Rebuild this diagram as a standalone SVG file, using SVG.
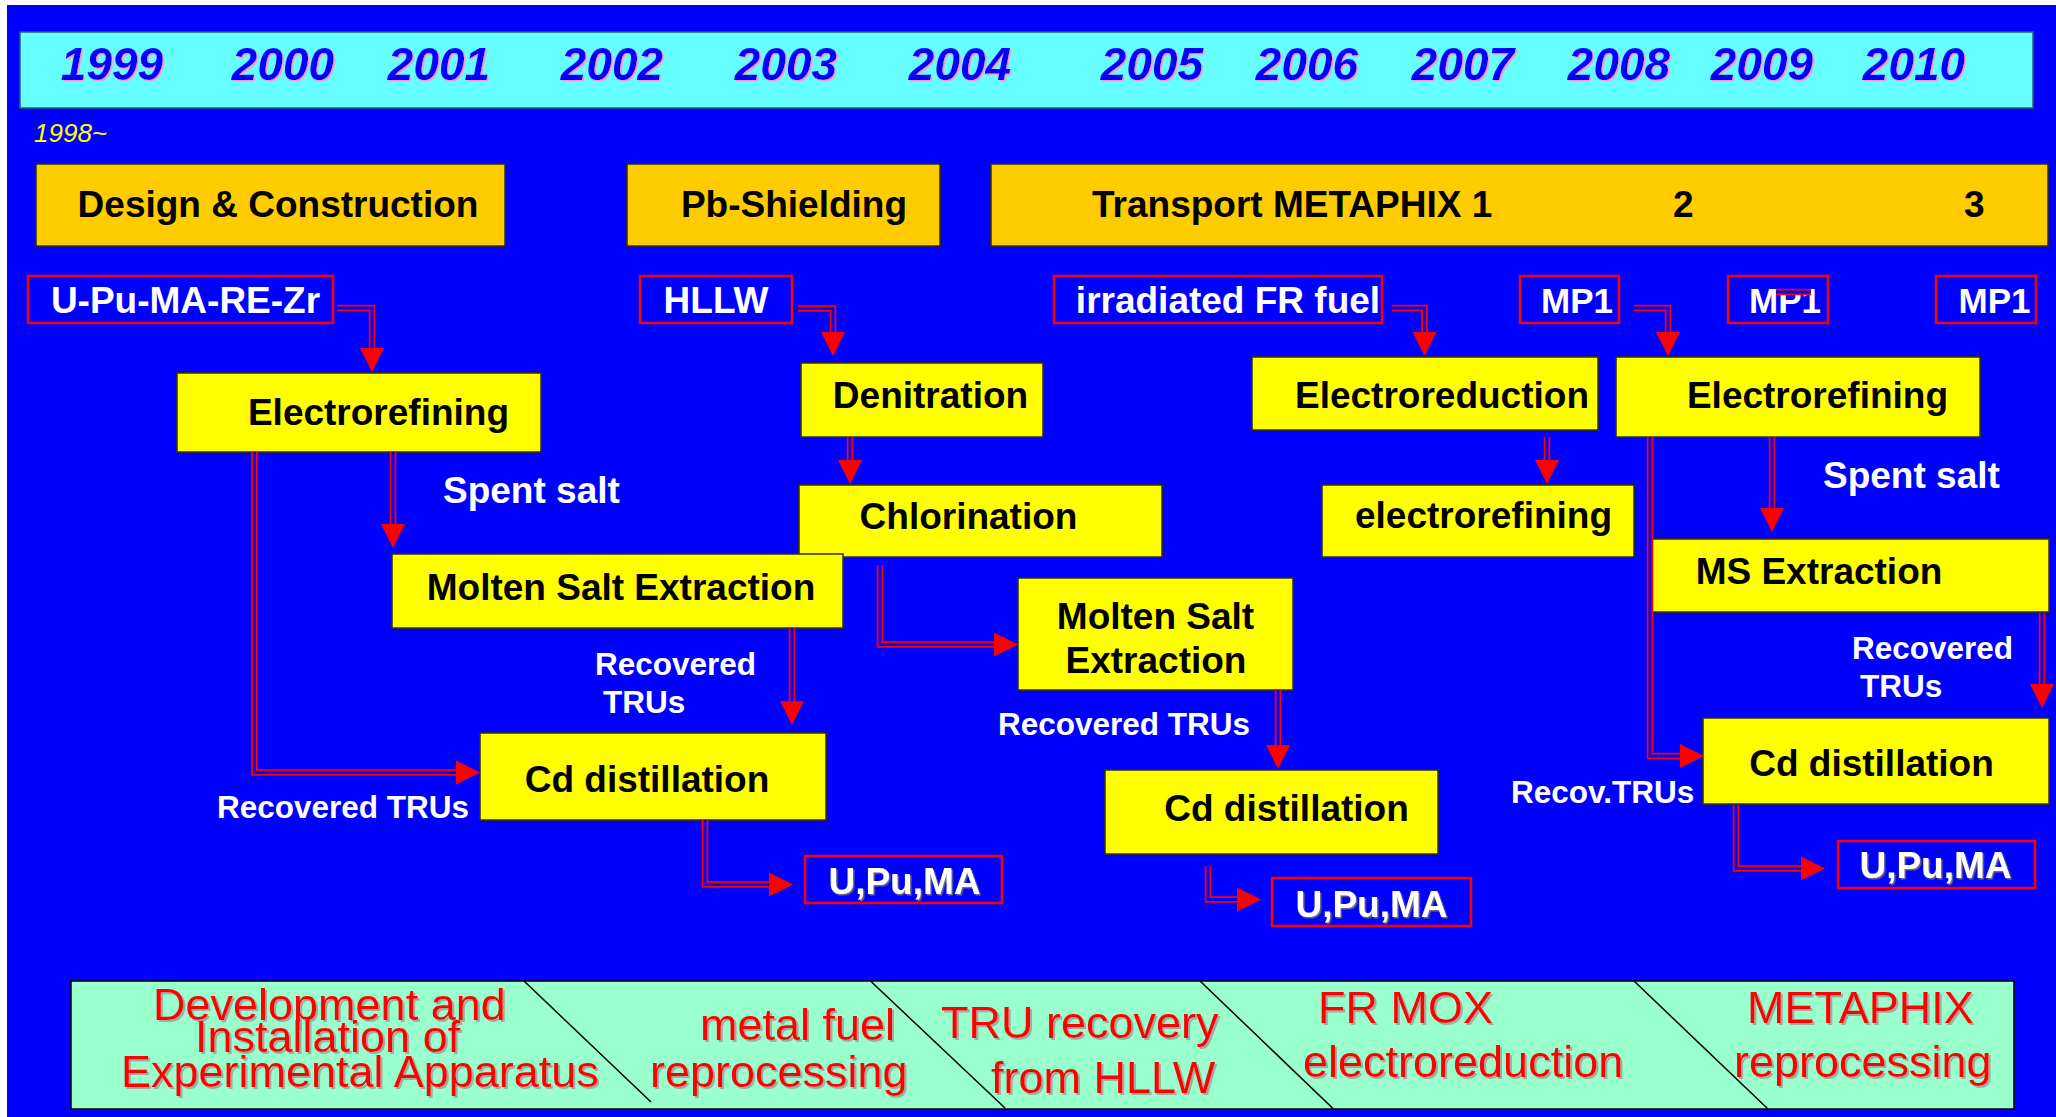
<svg xmlns="http://www.w3.org/2000/svg" width="2056" height="1117" viewBox="0 0 2056 1117">
<style>
.yr{font-family:"Liberation Sans",Arial,sans-serif;font-size:46px;font-weight:bold;font-style:italic;fill:#0000FF;text-anchor:middle;filter:url(#pinkSh)}
.gold{fill:#FFCC00;stroke:#333300;stroke-width:1.5}
.proc{fill:#FFFF00;stroke:#333300;stroke-width:1.5}
.inp{fill:#0000FF;stroke:#FF0000;stroke-width:2.5}
.bt{font-family:"Liberation Sans",Arial,sans-serif;font-size:37px;font-weight:bold;fill:#000;text-anchor:middle}
.wt{font-family:"Liberation Sans",Arial,sans-serif;font-size:37px;font-weight:bold;fill:#FFFFFF;text-anchor:middle}
.mp{font-size:35px}
.lbl{font-family:"Liberation Sans",Arial,sans-serif;font-size:31.5px;font-weight:bold;fill:#FFFFFF}
.big{font-size:37px}
.rt{font-family:"Liberation Sans",Arial,sans-serif;font-size:45px;fill:#FF0000;filter:url(#graySh)}
.o{fill:none;stroke:#FF0000;stroke-width:6.5}
.i{fill:none;stroke:#0000FF;stroke-width:3}
</style>
<defs>
<filter id="pinkSh" x="-10%" y="-10%" width="130%" height="130%"><feDropShadow dx="1.5" dy="1.5" stdDeviation="0.3" flood-color="#FF99CC" flood-opacity="1"/></filter>
<filter id="graySh" x="-10%" y="-10%" width="130%" height="130%"><feDropShadow dx="2" dy="2" stdDeviation="0.5" flood-color="#A09898" flood-opacity="0.8"/></filter>
<filter id="whSh" x="-10%" y="-10%" width="130%" height="130%"><feDropShadow dx="1.5" dy="1.5" stdDeviation="0.3" flood-color="#777777" flood-opacity="0.9"/></filter>
<marker id="ah" markerUnits="userSpaceOnUse" markerWidth="24" markerHeight="24" viewBox="0 0 24 24" refX="0" refY="12" orient="auto"><path d="M0,0 L24,12 L0,24 z" fill="#FF0000"/></marker>
</defs>

<rect x="0" y="0" width="2056" height="1117" fill="#FFFFFF"/>
<rect x="7" y="5" width="2049" height="1112" fill="#0000FF"/>

<g id="timeline">
<rect x="20" y="32" width="2013" height="76" fill="#66FFFF" stroke="#226666" stroke-width="1.5"/>
<text class="yr" x="112" y="80">1999</text>
<text class="yr" x="283" y="80">2000</text>
<text class="yr" x="439" y="80">2001</text>
<text class="yr" x="612" y="80">2002</text>
<text class="yr" x="786" y="80">2003</text>
<text class="yr" x="960" y="80">2004</text>
<text class="yr" x="1152" y="80">2005</text>
<text class="yr" x="1307" y="80">2006</text>
<text class="yr" x="1463" y="80">2007</text>
<text class="yr" x="1619" y="80">2008</text>
<text class="yr" x="1762" y="80">2009</text>
<text class="yr" x="1914" y="80">2010</text>
</g>
<text x="34" y="142" font-family="Liberation Sans, Arial, sans-serif" font-size="26" font-style="italic" fill="#FFFF00">1998~</text>

<g id="bar-design"><rect class="gold" x="36" y="164" width="469" height="82"/><text class="bt" x="278" y="217">Design &amp; Construction</text></g>
<g id="bar-pb"><rect class="gold" x="627" y="164" width="313" height="82"/><text class="bt" x="794" y="217">Pb-Shielding</text></g>
<g id="bar-transport"><rect class="gold" x="991" y="164" width="1057" height="82"/><text class="bt" style="text-anchor:start" y="217"><tspan x="1092">Transport METAPHIX 1</tspan><tspan x="1673">2</tspan><tspan x="1964">3</tspan></text></g>

<g id="in-upu"><rect class="inp" x="28" y="276" width="305" height="47"/><text class="wt" x="185.5" y="313">U-Pu-MA-RE-Zr</text></g>
<g id="in-hllw"><rect class="inp" x="640" y="276" width="152" height="47"/><text class="wt" x="716" y="313">HLLW</text></g>
<g id="in-frfuel"><rect class="inp" x="1054" y="276" width="328" height="47"/><text class="wt" x="1228" y="313">irradiated FR fuel</text></g>
<g id="in-mp1a"><rect class="inp" x="1520" y="276" width="99" height="47"/><text class="wt mp" x="1577" y="313">MP1</text></g>
<g id="in-mp1b"><rect class="inp" x="1728" y="276" width="100" height="47"/><text class="wt mp" x="1785" y="313">MP1</text></g>
<g id="in-mp1c"><rect class="inp" x="1936" y="276" width="100" height="47"/><text class="wt mp" x="1994.5" y="313">MP1</text></g>

<g id="er-left"><rect class="proc" x="177" y="373" width="364" height="79"/><text class="bt" x="378.5" y="425">Electrorefining</text></g>
<g id="denitration"><rect class="proc" x="801" y="363" width="242" height="74"/><text class="bt" x="930.5" y="408">Denitration</text></g>
<g id="chlorination"><rect class="proc" x="799" y="485" width="363" height="72"/><text class="bt" x="968.5" y="529">Chlorination</text></g>
<g id="mse-left"><rect class="proc" x="392" y="554" width="451" height="74"/><text class="bt" x="621" y="600">Molten Salt Extraction</text></g>
<g id="mse-mid"><rect class="proc" x="1018" y="578" width="275" height="112"/><text class="bt" x="1155.5" y="629">Molten Salt</text><text class="bt" x="1156" y="673">Extraction</text></g>
<g id="cd-left"><rect class="proc" x="480" y="733" width="346" height="87"/><text class="bt" x="647" y="792">Cd distillation</text></g>
<g id="electroreduction"><rect class="proc" x="1252" y="357" width="346" height="73"/><text class="bt" x="1442" y="408">Electroreduction</text></g>
<g id="er-right"><rect class="proc" x="1616" y="357" width="364" height="80"/><text class="bt" x="1817.5" y="408">Electrorefining</text></g>
<g id="er-lower"><rect class="proc" x="1322" y="485" width="312" height="72"/><text class="bt" x="1483.5" y="528">electrorefining</text></g>
<g id="ms-extraction"><rect class="proc" x="1650" y="539" width="399" height="73"/><text class="bt" x="1819" y="584">MS Extraction</text></g>
<g id="cd-mid"><rect class="proc" x="1105" y="770" width="333" height="84"/><text class="bt" x="1286.5" y="821">Cd distillation</text></g>
<g id="cd-right"><rect class="proc" x="1703" y="718" width="346" height="86"/><text class="bt" x="1871.5" y="776">Cd distillation</text></g>

<g id="out-left"><rect class="inp" x="805" y="856" width="197" height="47"/><text class="wt" x="904.5" y="894" filter="url(#whSh)">U,Pu,MA</text></g>
<g id="out-mid"><rect class="inp" x="1272" y="878" width="199" height="48"/><text class="wt" x="1371.5" y="917" filter="url(#whSh)">U,Pu,MA</text></g>
<g id="out-right"><rect class="inp" x="1838" y="841" width="197" height="47"/><text class="wt" x="1935.5" y="878" filter="url(#whSh)">U,Pu,MA</text></g>

<g id="labels">
<text class="lbl big" x="443" y="503">Spent salt</text>
<text class="lbl big" x="1823" y="488">Spent salt</text>
<text class="lbl" x="595" y="675">Recovered</text>
<text class="lbl" x="603" y="713">TRUs</text>
<text class="lbl" x="217" y="818">Recovered TRUs</text>
<text class="lbl" x="998" y="735">Recovered TRUs</text>
<text class="lbl" x="1852" y="659">Recovered</text>
<text class="lbl" x="1860" y="697">TRUs</text>
<text class="lbl" x="1511" y="803">Recov.TRUs</text>
</g>

<g id="connectors">
<path class="o" d="M337,308 H372 V348" marker-end="url(#ah)"/><path class="i" d="M337,308 H372 V348"/>
<path class="o" d="M798,308.5 H833 V332" marker-end="url(#ah)"/><path class="i" d="M798,308.5 H833 V332"/>
<path class="o" d="M850,437 V460" marker-end="url(#ah)"/><path class="i" d="M850,437 V460"/>
<path class="o" d="M880,565 V644.5 H994" marker-end="url(#ah)"/><path class="i" d="M880,565 V644.5 H994"/>
<path class="o" d="M393,452 V524" marker-end="url(#ah)"/><path class="i" d="M393,452 V524"/>
<path class="o" d="M254.5,452 V772.5 H456" marker-end="url(#ah)"/><path class="i" d="M254.5,452 V772.5 H456"/>
<path class="o" d="M792,628 V701" marker-end="url(#ah)"/><path class="i" d="M792,628 V701"/>
<path class="o" d="M705,820 V884.5 H769" marker-end="url(#ah)"/><path class="i" d="M705,820 V884.5 H769"/>
<path class="o" d="M1392,308 H1424.5 V332" marker-end="url(#ah)"/><path class="i" d="M1392,308 H1424.5 V332"/>
<path class="o" d="M1634,308 H1668 V332" marker-end="url(#ah)"/><path class="i" d="M1634,308 H1668 V332"/>
<path class="o" d="M1547,437 V460" marker-end="url(#ah)"/><path class="i" d="M1547,437 V460"/>
<path class="o" d="M1772,437 V508" marker-end="url(#ah)"/><path class="i" d="M1772,437 V508"/>
<path class="o" d="M1650,437 V756 H1680" marker-end="url(#ah)"/><path class="i" d="M1650,437 V756 H1680"/>
<path class="o" d="M2042,613 V684" marker-end="url(#ah)"/><path class="i" d="M2042,613 V684"/>
<path class="o" d="M1278,690 V745" marker-end="url(#ah)"/><path class="i" d="M1278,690 V745"/>
<path class="o" d="M1208,866 V899.5 H1237" marker-end="url(#ah)"/><path class="i" d="M1208,866 V899.5 H1237"/>
<path class="o" d="M1736,805 V868.5 H1801" marker-end="url(#ah)"/><path class="i" d="M1736,805 V868.5 H1801"/>
<path class="o" d="M1776,292 H1811"/><path class="i" d="M1776,292 H1811"/>
</g>

<g id="phases">
<rect x="71" y="981" width="1943" height="128" fill="#99FFCC" stroke="#000" stroke-width="1.5"/>
<g stroke="#000" stroke-width="1.5">
<line x1="524" y1="981" x2="651" y2="1102"/>
<line x1="870.5" y1="981" x2="1005" y2="1108"/>
<line x1="1200" y1="981" x2="1333.5" y2="1109"/>
<line x1="1634" y1="981" x2="1768" y2="1109"/>
</g>
<text class="rt" x="153" y="1020">Development and</text>
<text class="rt" x="195" y="1052">Installation of</text>
<text class="rt" x="121" y="1087">Experimental Apparatus</text>
<text class="rt" x="700" y="1040">metal fuel</text>
<text class="rt" x="650" y="1087">reprocessing</text>
<text class="rt" x="941" y="1038">TRU recovery</text>
<text class="rt" x="991" y="1093">from HLLW</text>
<text class="rt" x="1318" y="1023">FR MOX</text>
<text class="rt" x="1303" y="1077">electroreduction</text>
<text class="rt" x="1747" y="1023">METAPHIX</text>
<text class="rt" x="1734" y="1077">reprocessing</text>
</g>
</svg>
